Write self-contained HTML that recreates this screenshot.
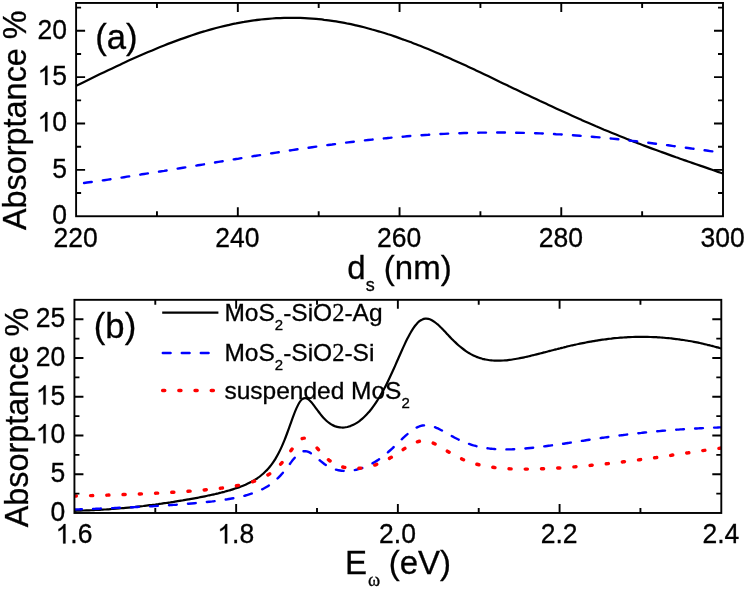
<!DOCTYPE html>
<html><head><meta charset="utf-8"><title>Absorptance</title>
<style>html,body{margin:0;padding:0;background:#fff}svg{display:block;opacity:.999;will-change:transform}text{font-family:"Liberation Sans",sans-serif;fill:#000;stroke:#000;stroke-width:.3px}.ser{font-family:"Liberation Serif",serif}</style></head><body>
<svg width="747" height="590" viewBox="0 0 747 590">
<rect width="747" height="590" fill="#fff"/>
<clipPath id="ca"><rect x="76.10" y="2.95" width="646.90" height="213.30"/></clipPath>
<g clip-path="url(#ca)" fill="none">
<path d="M76.1 85.9C77.4 85.2 81.4 83.2 84.1 81.9C86.8 80.6 89.4 79.3 92.1 78.0C94.8 76.7 97.4 75.4 100.1 74.1C102.8 72.8 105.4 71.6 108.1 70.3C110.8 69.0 113.4 67.8 116.1 66.5C118.8 65.3 121.4 64.0 124.1 62.8C126.8 61.6 129.4 60.4 132.1 59.1C134.8 57.9 137.4 56.8 140.1 55.6C142.8 54.4 145.4 53.3 148.1 52.1C150.8 51.0 153.4 49.9 156.1 48.7C158.8 47.6 161.4 46.6 164.1 45.5C166.8 44.4 169.4 43.4 172.1 42.4C174.8 41.4 177.4 40.4 180.1 39.4C182.8 38.4 185.4 37.5 188.1 36.6C190.8 35.7 193.4 34.8 196.1 33.9C198.8 33.0 201.4 32.2 204.1 31.4C206.8 30.6 209.4 29.8 212.1 29.1C214.8 28.4 217.4 27.7 220.1 27.0C222.8 26.3 225.4 25.7 228.1 25.1C230.8 24.5 233.4 23.9 236.1 23.4C238.8 22.8 241.4 22.3 244.1 21.9C246.8 21.4 249.4 21.0 252.1 20.6C254.8 20.2 257.4 19.9 260.1 19.6C262.8 19.3 265.4 19.0 268.1 18.8C270.8 18.6 273.4 18.4 276.1 18.2C278.8 18.1 281.4 18.0 284.1 17.9C286.8 17.8 289.4 17.8 292.1 17.8C294.8 17.8 297.4 17.8 300.1 17.9C302.8 18.0 305.4 18.1 308.1 18.3C310.8 18.5 313.4 18.7 316.1 18.9C318.8 19.2 321.4 19.4 324.1 19.8C326.8 20.1 329.4 20.4 332.1 20.8C334.8 21.2 337.4 21.7 340.1 22.1C342.8 22.6 345.4 23.1 348.1 23.7C350.8 24.2 353.4 24.8 356.1 25.4C358.8 26.0 361.4 26.6 364.1 27.3C366.8 28.0 369.4 28.7 372.1 29.5C374.8 30.2 377.4 31.0 380.1 31.8C382.8 32.6 385.4 33.4 388.1 34.3C390.8 35.1 393.4 36.0 396.1 36.9C398.8 37.8 401.4 38.8 404.1 39.8C406.8 40.7 409.4 41.7 412.1 42.7C414.8 43.7 417.4 44.8 420.1 45.8C422.8 46.9 425.4 48.0 428.1 49.1C430.8 50.2 433.4 51.3 436.1 52.4C438.8 53.5 441.4 54.7 444.1 55.9C446.8 57.0 449.4 58.2 452.1 59.4C454.8 60.6 457.4 61.8 460.1 63.0C462.8 64.2 465.4 65.5 468.1 66.7C470.8 67.9 473.4 69.2 476.1 70.4C478.8 71.7 481.4 72.9 484.1 74.2C486.8 75.5 489.4 76.7 492.1 78.0C494.8 79.3 497.4 80.6 500.1 81.9C502.8 83.1 505.4 84.4 508.1 85.7C510.8 87.0 513.4 88.3 516.1 89.5C518.8 90.8 521.4 92.1 524.1 93.4C526.8 94.7 529.4 95.9 532.1 97.2C534.8 98.5 537.4 99.7 540.1 101.0C542.8 102.2 545.4 103.5 548.1 104.7C550.8 106.0 553.4 107.2 556.1 108.5C558.8 109.7 561.4 110.9 564.1 112.1C566.8 113.4 569.4 114.6 572.1 115.8C574.8 117.0 577.4 118.1 580.1 119.3C582.8 120.5 585.4 121.7 588.1 122.8C590.8 124.0 593.4 125.1 596.1 126.3C598.8 127.4 601.4 128.5 604.1 129.7C606.8 130.8 609.4 131.9 612.1 133.0C614.8 134.1 617.4 135.1 620.1 136.2C622.8 137.3 625.4 138.3 628.1 139.4C630.8 140.4 633.4 141.5 636.1 142.5C638.8 143.5 641.4 144.6 644.1 145.6C646.8 146.6 649.4 147.6 652.1 148.6C654.8 149.6 657.4 150.5 660.1 151.5C662.8 152.5 665.4 153.5 668.1 154.4C670.8 155.4 673.4 156.3 676.1 157.3C678.8 158.2 681.4 159.2 684.1 160.1C686.8 161.0 689.4 162.0 692.1 162.9C694.8 163.8 697.4 164.7 700.1 165.6C702.8 166.6 705.4 167.5 708.1 168.4C710.8 169.3 713.6 170.3 716.1 171.1C718.6 172.0 721.9 173.1 723.0 173.5" stroke="#000" stroke-width="2.20"/>
<path d="M76.1 184.1C77.4 184.0 81.4 183.4 84.1 183.0C86.8 182.7 89.4 182.3 92.1 181.9C94.8 181.5 97.4 181.1 100.1 180.8C102.8 180.4 105.4 180.0 108.1 179.6C110.8 179.2 113.4 178.8 116.1 178.4C118.8 178.0 121.4 177.6 124.1 177.2C126.8 176.8 129.4 176.4 132.1 175.9C134.8 175.5 137.4 175.1 140.1 174.7C142.8 174.3 145.4 173.8 148.1 173.4C150.8 173.0 153.4 172.6 156.1 172.1C158.8 171.7 161.4 171.3 164.1 170.9C166.8 170.4 169.4 170.0 172.1 169.6C174.8 169.1 177.4 168.7 180.1 168.2C182.8 167.8 185.4 167.4 188.1 166.9C190.8 166.5 193.4 166.0 196.1 165.6C198.8 165.2 201.4 164.7 204.1 164.3C206.8 163.8 209.4 163.4 212.1 163.0C214.8 162.5 217.4 162.1 220.1 161.6C222.8 161.2 225.4 160.8 228.1 160.3C230.8 159.9 233.4 159.4 236.1 159.0C238.8 158.6 241.4 158.1 244.1 157.7C246.8 157.3 249.4 156.8 252.1 156.4C254.8 156.0 257.4 155.5 260.1 155.1C262.8 154.7 265.4 154.3 268.1 153.8C270.8 153.4 273.4 153.0 276.1 152.6C278.8 152.2 281.4 151.8 284.1 151.4C286.8 150.9 289.4 150.5 292.1 150.1C294.8 149.7 297.4 149.3 300.1 148.9C302.8 148.6 305.4 148.2 308.1 147.8C310.8 147.4 313.4 147.0 316.1 146.6C318.8 146.3 321.4 145.9 324.1 145.5C326.8 145.2 329.4 144.8 332.1 144.5C334.8 144.1 337.4 143.8 340.1 143.4C342.8 143.1 345.4 142.7 348.1 142.4C350.8 142.1 353.4 141.8 356.1 141.4C358.8 141.1 361.4 140.8 364.1 140.5C366.8 140.2 369.4 139.9 372.1 139.6C374.8 139.3 377.4 139.1 380.1 138.8C382.8 138.5 385.4 138.3 388.1 138.0C390.8 137.7 393.4 137.5 396.1 137.3C398.8 137.0 401.4 136.8 404.1 136.6C406.8 136.3 409.4 136.1 412.1 135.9C414.8 135.7 417.4 135.5 420.1 135.3C422.8 135.1 425.4 134.9 428.1 134.8C430.8 134.6 433.4 134.4 436.1 134.3C438.8 134.1 441.4 134.0 444.1 133.9C446.8 133.7 449.4 133.6 452.1 133.5C454.8 133.4 457.4 133.3 460.1 133.2C462.8 133.1 465.4 133.0 468.1 132.9C470.8 132.9 473.4 132.8 476.1 132.7C478.8 132.7 481.4 132.6 484.1 132.6C486.8 132.6 489.4 132.5 492.1 132.5C494.8 132.5 497.4 132.5 500.1 132.5C502.8 132.5 505.4 132.5 508.1 132.6C510.8 132.6 513.4 132.6 516.1 132.7C518.8 132.7 521.4 132.8 524.1 132.9C526.8 132.9 529.4 133.0 532.1 133.1C534.8 133.2 537.4 133.3 540.1 133.4C542.8 133.5 545.4 133.6 548.1 133.8C550.8 133.9 553.4 134.0 556.1 134.2C558.8 134.3 561.4 134.5 564.1 134.6C566.8 134.8 569.4 135.0 572.1 135.2C574.8 135.4 577.4 135.6 580.1 135.8C582.8 136.0 585.4 136.2 588.1 136.4C590.8 136.6 593.4 136.9 596.1 137.1C598.8 137.3 601.4 137.6 604.1 137.8C606.8 138.1 609.4 138.4 612.1 138.6C614.8 138.9 617.4 139.2 620.1 139.5C622.8 139.8 625.4 140.1 628.1 140.4C630.8 140.7 633.4 141.0 636.1 141.3C638.8 141.6 641.4 141.9 644.1 142.2C646.8 142.6 649.4 142.9 652.1 143.2C654.8 143.6 657.4 143.9 660.1 144.3C662.8 144.6 665.4 145.0 668.1 145.3C670.8 145.7 673.4 146.0 676.1 146.4C678.8 146.7 681.4 147.1 684.1 147.5C686.8 147.8 689.4 148.2 692.1 148.6C694.8 148.9 697.4 149.3 700.1 149.7C702.8 150.1 705.4 150.4 708.1 150.8C710.8 151.2 713.6 151.6 716.1 151.9C718.6 152.3 721.9 152.7 723.0 152.9" stroke="#00f" stroke-width="2.40" stroke-linecap="round" stroke-dasharray="7.75 11.19" stroke-dashoffset="10.9"/>
</g>
<rect x="76.10" y="2.95" width="646.90" height="213.30" fill="none" stroke="#000" stroke-width="1.90"/>
<path d="M237.82 216.25 v-9.00 M237.82 2.95 v9.00 M399.55 216.25 v-9.00 M399.55 2.95 v9.00 M561.27 216.25 v-9.00 M561.27 2.95 v9.00 M156.96 216.25 v-5.00 M156.96 2.95 v5.00 M318.69 216.25 v-5.00 M318.69 2.95 v5.00 M480.41 216.25 v-5.00 M480.41 2.95 v5.00 M642.14 216.25 v-5.00 M642.14 2.95 v5.00 M76.10 169.88 h9.00 M723.00 169.88 h-9.00 M76.10 123.51 h9.00 M723.00 123.51 h-9.00 M76.10 77.14 h9.00 M723.00 77.14 h-9.00 M76.10 30.77 h9.00 M723.00 30.77 h-9.00 M76.10 193.07 h5.00 M723.00 193.07 h-5.00 M76.10 146.70 h5.00 M723.00 146.70 h-5.00 M76.10 100.33 h5.00 M723.00 100.33 h-5.00 M76.10 53.96 h5.00 M723.00 53.96 h-5.00 M76.10 7.59 h5.00 M723.00 7.59 h-5.00" stroke="#000" stroke-width="1.90" fill="none"/>
<text transform="translate(52.27 224.15) scale(1 1.060)" font-size="26.50">0</text>
<text transform="translate(52.27 177.78) scale(1 1.060)" font-size="26.50">5</text>
<path transform="translate(37.53 131.41) scale(0.01294 -0.01313)" d="M763 0H583V1147Q518 1085 412.5 1023T223 930V1104Q373 1174.5 485 1275T644 1472H763V0Z" fill="#000" stroke="#000" stroke-width="19.3"/>
<text transform="translate(52.27 131.41) scale(1 1.060)" font-size="26.50">0</text>
<path transform="translate(37.53 85.04) scale(0.01294 -0.01313)" d="M763 0H583V1147Q518 1085 412.5 1023T223 930V1104Q373 1174.5 485 1275T644 1472H763V0Z" fill="#000" stroke="#000" stroke-width="19.3"/>
<text transform="translate(52.27 85.04) scale(1 1.060)" font-size="26.50">5</text>
<text transform="translate(37.53 38.67) scale(1 1.060)" font-size="26.50">20</text>
<text transform="translate(53.60 246.70) scale(1 1.060)" font-size="26.50">220</text>
<text transform="translate(215.32 246.70) scale(1 1.060)" font-size="26.50">240</text>
<text transform="translate(377.05 246.70) scale(1 1.060)" font-size="26.50">260</text>
<text transform="translate(538.77 246.70) scale(1 1.060)" font-size="26.50">280</text>
<text transform="translate(700.50 246.70) scale(1 1.060)" font-size="26.50">300</text>
<text x="347.3" y="279.3" font-size="33.00">d<tspan font-size="18" dy="11.3">s</tspan><tspan dy="-11.3"> (nm)</tspan></text>
<text transform="translate(26.0 120.2) rotate(-90)" font-size="32.40" text-anchor="middle">Absorptance %</text>
<text x="95.2" y="48.9" font-size="34.70">(a)</text>
<clipPath id="cb"><rect x="74.43" y="299.83" width="646.87" height="213.15"/></clipPath>
<g clip-path="url(#cb)" fill="none">
<path d="M74.4 510.8C74.9 510.7 76.4 510.7 77.4 510.7C78.4 510.7 79.4 510.7 80.4 510.6C81.4 510.6 82.4 510.6 83.4 510.5C84.4 510.5 85.4 510.5 86.4 510.4C87.4 510.4 88.4 510.4 89.4 510.3C90.4 510.3 91.4 510.2 92.4 510.2C93.4 510.1 94.4 510.1 95.4 510.0C96.4 510.0 97.4 509.9 98.4 509.9C99.4 509.8 100.4 509.8 101.4 509.7C102.4 509.7 103.4 509.6 104.4 509.5C105.4 509.5 106.4 509.4 107.4 509.3C108.4 509.3 109.4 509.2 110.4 509.1C111.4 509.0 112.4 509.0 113.4 508.9C114.4 508.8 115.4 508.7 116.4 508.7C117.4 508.6 118.4 508.5 119.4 508.4C120.4 508.3 121.4 508.2 122.4 508.1C123.4 508.1 124.4 508.0 125.4 507.9C126.4 507.8 127.4 507.7 128.4 507.6C129.4 507.5 130.4 507.4 131.4 507.3C132.4 507.2 133.4 507.1 134.4 507.0C135.4 506.9 136.4 506.8 137.4 506.6C138.4 506.5 139.4 506.4 140.4 506.3C141.4 506.2 142.4 506.1 143.4 506.0C144.4 505.8 145.4 505.7 146.4 505.6C147.4 505.5 148.4 505.4 149.4 505.2C150.4 505.1 151.4 505.0 152.4 504.9C153.4 504.7 154.4 504.6 155.4 504.5C156.4 504.3 157.4 504.2 158.4 504.1C159.4 503.9 160.4 503.8 161.4 503.7C162.4 503.5 163.4 503.4 164.4 503.2C165.4 503.1 166.4 502.9 167.4 502.8C168.4 502.7 169.4 502.5 170.4 502.4C171.4 502.2 172.4 502.0 173.4 501.9C174.4 501.7 175.4 501.6 176.4 501.4C177.4 501.3 178.4 501.1 179.4 500.9C180.4 500.8 181.4 500.6 182.4 500.5C183.4 500.3 184.4 500.1 185.4 499.9C186.4 499.8 187.4 499.6 188.4 499.4C189.4 499.2 190.4 499.1 191.4 498.9C192.4 498.7 193.4 498.5 194.4 498.3C195.4 498.2 196.4 498.0 197.4 497.8C198.4 497.6 199.4 497.4 200.4 497.2C201.4 497.0 202.4 496.8 203.4 496.6C204.4 496.4 205.4 496.2 206.4 496.0C207.4 495.8 208.4 495.6 209.4 495.3C210.4 495.1 211.4 494.9 212.4 494.7C213.4 494.5 214.4 494.2 215.4 494.0C216.4 493.8 217.4 493.5 218.4 493.3C219.4 493.0 220.4 492.8 221.4 492.5C222.4 492.3 223.4 492.0 224.4 491.8C225.4 491.5 226.4 491.2 227.4 490.9C228.4 490.6 229.4 490.4 230.4 490.1C231.4 489.8 232.4 489.4 233.4 489.1C234.4 488.8 235.4 488.5 236.4 488.1C237.4 487.8 238.4 487.4 239.4 487.1C240.4 486.7 241.4 486.3 242.4 485.9C243.4 485.5 244.4 485.1 245.4 484.7C246.4 484.2 247.4 483.8 248.4 483.3C249.4 482.8 250.4 482.3 251.4 481.8C252.4 481.2 253.4 480.7 254.4 480.1C255.4 479.5 256.4 478.8 257.4 478.2C258.4 477.5 259.4 476.8 260.4 476.0C261.4 475.2 262.4 474.4 263.4 473.5C264.4 472.6 265.4 471.7 266.4 470.6C267.4 469.6 268.4 468.5 269.4 467.3C270.4 466.1 271.4 464.8 272.4 463.4C273.4 462.0 274.4 460.5 275.4 458.9C276.4 457.2 277.4 455.5 278.4 453.6C279.4 451.7 280.4 449.6 281.4 447.4C282.4 445.2 283.4 442.8 284.4 440.4C285.4 437.9 286.4 435.2 287.4 432.5C288.4 429.8 289.4 426.9 290.4 424.2C291.4 421.4 292.4 418.5 293.4 415.9C294.4 413.2 295.4 410.6 296.4 408.4C297.4 406.2 298.4 404.1 299.4 402.5C300.4 401.0 301.4 399.8 302.4 399.0C303.4 398.3 304.4 398.0 305.4 398.1C306.4 398.1 307.4 398.7 308.4 399.4C309.4 400.1 310.4 401.2 311.4 402.3C312.4 403.4 313.4 404.8 314.4 406.1C315.4 407.4 316.4 408.8 317.4 410.2C318.4 411.5 319.4 412.9 320.4 414.1C321.4 415.4 322.4 416.6 323.4 417.7C324.4 418.8 325.4 419.8 326.4 420.7C327.4 421.6 328.4 422.4 329.4 423.1C330.4 423.9 331.4 424.5 332.4 425.0C333.4 425.6 334.4 426.0 335.4 426.4C336.4 426.7 337.4 427.0 338.4 427.2C339.4 427.4 340.4 427.5 341.4 427.5C342.4 427.6 343.4 427.6 344.4 427.5C345.4 427.4 346.4 427.2 347.4 427.0C348.4 426.7 349.4 426.4 350.4 426.1C351.4 425.7 352.4 425.3 353.4 424.8C354.4 424.3 355.4 423.7 356.4 423.1C357.4 422.5 358.4 421.8 359.4 421.1C360.4 420.3 361.4 419.5 362.4 418.6C363.4 417.8 364.4 416.8 365.4 415.8C366.4 414.8 367.4 413.7 368.4 412.6C369.4 411.5 370.4 410.2 371.4 409.0C372.4 407.7 373.4 406.3 374.4 404.9C375.4 403.5 376.4 402.0 377.4 400.4C378.4 398.9 379.4 397.2 380.4 395.5C381.4 393.8 382.4 392.0 383.4 390.1C384.4 388.3 385.4 386.4 386.4 384.4C387.4 382.4 388.4 380.3 389.4 378.2C390.4 376.1 391.4 374.0 392.4 371.8C393.4 369.6 394.4 367.3 395.4 365.1C396.4 362.8 397.4 360.5 398.4 358.3C399.4 356.0 400.4 353.7 401.4 351.5C402.4 349.2 403.4 347.0 404.4 344.9C405.4 342.7 406.4 340.6 407.4 338.6C408.4 336.7 409.4 334.7 410.4 333.0C411.4 331.2 412.4 329.6 413.4 328.1C414.4 326.6 415.4 325.3 416.4 324.2C417.4 323.0 418.4 322.0 419.4 321.2C420.4 320.4 421.4 319.8 422.4 319.4C423.4 318.9 424.4 318.7 425.4 318.6C426.4 318.5 427.4 318.6 428.4 318.8C429.4 319.0 430.4 319.4 431.4 319.9C432.4 320.4 433.4 321.1 434.4 321.8C435.4 322.5 436.4 323.3 437.4 324.2C438.4 325.0 439.4 326.0 440.4 327.0C441.4 327.9 442.4 329.0 443.4 330.0C444.4 331.1 445.4 332.1 446.4 333.2C447.4 334.3 448.4 335.3 449.4 336.4C450.4 337.4 451.4 338.5 452.4 339.5C453.4 340.5 454.4 341.5 455.4 342.4C456.4 343.4 457.4 344.3 458.4 345.2C459.4 346.1 460.4 346.9 461.4 347.7C462.4 348.5 463.4 349.3 464.4 350.0C465.4 350.7 466.4 351.4 467.4 352.1C468.4 352.7 469.4 353.3 470.4 353.9C471.4 354.4 472.4 354.9 473.4 355.4C474.4 355.9 475.4 356.3 476.4 356.7C477.4 357.2 478.4 357.5 479.4 357.9C480.4 358.2 481.4 358.5 482.4 358.8C483.4 359.0 484.4 359.3 485.4 359.5C486.4 359.7 487.4 359.9 488.4 360.0C489.4 360.2 490.4 360.3 491.4 360.4C492.4 360.5 493.4 360.5 494.4 360.6C495.4 360.6 496.4 360.7 497.4 360.7C498.4 360.7 499.4 360.7 500.4 360.6C501.4 360.6 502.4 360.6 503.4 360.5C504.4 360.4 505.4 360.4 506.4 360.3C507.4 360.2 508.4 360.0 509.4 359.9C510.4 359.8 511.4 359.7 512.4 359.5C513.4 359.4 514.4 359.2 515.4 359.0C516.4 358.9 517.4 358.7 518.4 358.5C519.4 358.3 520.4 358.1 521.4 357.9C522.4 357.7 523.4 357.5 524.4 357.3C525.4 357.0 526.4 356.8 527.4 356.6C528.4 356.4 529.4 356.1 530.4 355.9C531.4 355.6 532.4 355.4 533.4 355.2C534.4 354.9 535.4 354.7 536.4 354.4C537.4 354.2 538.4 353.9 539.4 353.6C540.4 353.4 541.4 353.1 542.4 352.9C543.4 352.6 544.4 352.3 545.4 352.1C546.4 351.8 547.4 351.6 548.4 351.3C549.4 351.0 550.4 350.8 551.4 350.5C552.4 350.3 553.4 350.0 554.4 349.7C555.4 349.5 556.4 349.2 557.4 349.0C558.4 348.7 559.4 348.5 560.4 348.2C561.4 348.0 562.4 347.7 563.4 347.5C564.4 347.2 565.4 347.0 566.4 346.7C567.4 346.5 568.4 346.3 569.4 346.0C570.4 345.8 571.4 345.6 572.4 345.3C573.4 345.1 574.4 344.9 575.4 344.7C576.4 344.4 577.4 344.2 578.4 344.0C579.4 343.8 580.4 343.6 581.4 343.4C582.4 343.2 583.4 343.0 584.4 342.8C585.4 342.6 586.4 342.4 587.4 342.2C588.4 342.0 589.4 341.8 590.4 341.6C591.4 341.4 592.4 341.3 593.4 341.1C594.4 340.9 595.4 340.8 596.4 340.6C597.4 340.4 598.4 340.3 599.4 340.1C600.4 340.0 601.4 339.8 602.4 339.7C603.4 339.6 604.4 339.4 605.4 339.3C606.4 339.2 607.4 339.0 608.4 338.9C609.4 338.8 610.4 338.7 611.4 338.6C612.4 338.4 613.4 338.3 614.4 338.2C615.4 338.1 616.4 338.0 617.4 338.0C618.4 337.9 619.4 337.8 620.4 337.7C621.4 337.6 622.4 337.6 623.4 337.5C624.4 337.4 625.4 337.4 626.4 337.3C627.4 337.2 628.4 337.2 629.4 337.1C630.4 337.1 631.4 337.1 632.4 337.0C633.4 337.0 634.4 337.0 635.4 336.9C636.4 336.9 637.4 336.9 638.4 336.9C639.4 336.9 640.4 336.9 641.4 336.8C642.4 336.8 643.4 336.8 644.4 336.9C645.4 336.9 646.4 336.9 647.4 336.9C648.4 336.9 649.4 336.9 650.4 337.0C651.4 337.0 652.4 337.0 653.4 337.1C654.4 337.1 655.4 337.2 656.4 337.2C657.4 337.3 658.4 337.3 659.4 337.4C660.4 337.5 661.4 337.5 662.4 337.6C663.4 337.7 664.4 337.8 665.4 337.9C666.4 337.9 667.4 338.0 668.4 338.1C669.4 338.2 670.4 338.3 671.4 338.4C672.4 338.6 673.4 338.7 674.4 338.8C675.4 338.9 676.4 339.0 677.4 339.2C678.4 339.3 679.4 339.4 680.4 339.6C681.4 339.7 682.4 339.9 683.4 340.0C684.4 340.2 685.4 340.3 686.4 340.5C687.4 340.7 688.4 340.8 689.4 341.0C690.4 341.2 691.4 341.4 692.4 341.5C693.4 341.7 694.4 341.9 695.4 342.1C696.4 342.3 697.4 342.5 698.4 342.7C699.4 342.9 700.4 343.2 701.4 343.4C702.4 343.6 703.4 343.8 704.4 344.1C705.4 344.3 706.4 344.5 707.4 344.8C708.4 345.0 709.4 345.3 710.4 345.5C711.4 345.8 712.4 346.0 713.4 346.3C714.4 346.6 715.4 346.8 716.4 347.1C717.4 347.4 718.6 347.7 719.4 348.0C720.2 348.2 721.0 348.4 721.3 348.5" stroke="#000" stroke-width="2.20"/>
<path d="M74.4 509.5C74.9 509.5 76.4 509.4 77.4 509.4C78.4 509.4 79.4 509.3 80.4 509.3C81.4 509.3 82.4 509.2 83.4 509.2C84.4 509.2 85.4 509.1 86.4 509.1C87.4 509.1 88.4 509.0 89.4 509.0C90.4 508.9 91.4 508.9 92.4 508.9C93.4 508.8 94.4 508.8 95.4 508.8C96.4 508.7 97.4 508.7 98.4 508.7C99.4 508.6 100.4 508.6 101.4 508.5C102.4 508.5 103.4 508.5 104.4 508.4C105.4 508.4 106.4 508.3 107.4 508.3C108.4 508.3 109.4 508.2 110.4 508.2C111.4 508.1 112.4 508.1 113.4 508.1C114.4 508.0 115.4 508.0 116.4 507.9C117.4 507.9 118.4 507.9 119.4 507.8C120.4 507.8 121.4 507.7 122.4 507.7C123.4 507.6 124.4 507.6 125.4 507.5C126.4 507.5 127.4 507.5 128.4 507.4C129.4 507.4 130.4 507.3 131.4 507.3C132.4 507.2 133.4 507.2 134.4 507.1C135.4 507.1 136.4 507.0 137.4 507.0C138.4 506.9 139.4 506.9 140.4 506.8C141.4 506.8 142.4 506.7 143.4 506.7C144.4 506.6 145.4 506.6 146.4 506.5C147.4 506.5 148.4 506.4 149.4 506.4C150.4 506.3 151.4 506.2 152.4 506.2C153.4 506.1 154.4 506.1 155.4 506.0C156.4 506.0 157.4 505.9 158.4 505.8C159.4 505.8 160.4 505.7 161.4 505.7C162.4 505.6 163.4 505.5 164.4 505.5C165.4 505.4 166.4 505.4 167.4 505.3C168.4 505.2 169.4 505.2 170.4 505.1C171.4 505.0 172.4 505.0 173.4 504.9C174.4 504.8 175.4 504.7 176.4 504.7C177.4 504.6 178.4 504.5 179.4 504.5C180.4 504.4 181.4 504.3 182.4 504.2C183.4 504.2 184.4 504.1 185.4 504.0C186.4 503.9 187.4 503.8 188.4 503.8C189.4 503.7 190.4 503.6 191.4 503.5C192.4 503.4 193.4 503.3 194.4 503.2C195.4 503.1 196.4 503.0 197.4 503.0C198.4 502.9 199.4 502.8 200.4 502.7C201.4 502.6 202.4 502.5 203.4 502.4C204.4 502.3 205.4 502.2 206.4 502.0C207.4 501.9 208.4 501.8 209.4 501.7C210.4 501.6 211.4 501.5 212.4 501.4C213.4 501.2 214.4 501.1 215.4 501.0C216.4 500.9 217.4 500.7 218.4 500.6C219.4 500.5 220.4 500.3 221.4 500.2C222.4 500.0 223.4 499.9 224.4 499.7C225.4 499.6 226.4 499.4 227.4 499.3C228.4 499.1 229.4 498.9 230.4 498.7C231.4 498.6 232.4 498.4 233.4 498.2C234.4 498.0 235.4 497.8 236.4 497.6C237.4 497.4 238.4 497.2 239.4 497.0C240.4 496.7 241.4 496.5 242.4 496.3C243.4 496.0 244.4 495.8 245.4 495.5C246.4 495.2 247.4 494.9 248.4 494.6C249.4 494.3 250.4 494.0 251.4 493.7C252.4 493.4 253.4 493.0 254.4 492.7C255.4 492.3 256.4 491.9 257.4 491.5C258.4 491.1 259.4 490.6 260.4 490.2C261.4 489.7 262.4 489.2 263.4 488.7C264.4 488.2 265.4 487.6 266.4 487.0C267.4 486.4 268.4 485.8 269.4 485.1C270.4 484.4 271.4 483.7 272.4 482.9C273.4 482.1 274.4 481.3 275.4 480.4C276.4 479.5 277.4 478.6 278.4 477.6C279.4 476.6 280.4 475.6 281.4 474.4C282.4 473.3 283.4 472.1 284.4 470.9C285.4 469.7 286.4 468.4 287.4 467.1C288.4 465.8 289.4 464.5 290.4 463.2C291.4 461.9 292.4 460.5 293.4 459.3C294.4 458.1 295.4 456.9 296.4 455.9C297.4 454.8 298.4 453.9 299.4 453.2C300.4 452.4 301.4 451.9 302.4 451.5C303.4 451.2 304.4 451.1 305.4 451.1C306.4 451.2 307.4 451.5 308.4 451.9C309.4 452.3 310.4 452.9 311.4 453.6C312.4 454.2 313.4 455.1 314.4 455.9C315.4 456.7 316.4 457.5 317.4 458.4C318.4 459.2 319.4 460.1 320.4 460.9C321.4 461.7 322.4 462.5 323.4 463.2C324.4 464.0 325.4 464.7 326.4 465.3C327.4 465.9 328.4 466.5 329.4 467.0C330.4 467.5 331.4 468.0 332.4 468.4C333.4 468.8 334.4 469.2 335.4 469.5C336.4 469.8 337.4 470.0 338.4 470.2C339.4 470.4 340.4 470.6 341.4 470.7C342.4 470.8 343.4 470.9 344.4 471.0C345.4 471.0 346.4 471.0 347.4 471.0C348.4 470.9 349.4 470.9 350.4 470.7C351.4 470.6 352.4 470.5 353.4 470.3C354.4 470.2 355.4 470.0 356.4 469.7C357.4 469.5 358.4 469.2 359.4 468.9C360.4 468.6 361.4 468.3 362.4 468.0C363.4 467.6 364.4 467.2 365.4 466.8C366.4 466.4 367.4 465.9 368.4 465.5C369.4 465.0 370.4 464.5 371.4 464.0C372.4 463.4 373.4 462.8 374.4 462.2C375.4 461.6 376.4 461.0 377.4 460.4C378.4 459.7 379.4 459.0 380.4 458.3C381.4 457.6 382.4 456.8 383.4 456.0C384.4 455.2 385.4 454.4 386.4 453.6C387.4 452.8 388.4 451.9 389.4 451.0C390.4 450.1 391.4 449.2 392.4 448.3C393.4 447.4 394.4 446.4 395.4 445.4C396.4 444.5 397.4 443.5 398.4 442.5C399.4 441.6 400.4 440.6 401.4 439.6C402.4 438.7 403.4 437.7 404.4 436.8C405.4 435.9 406.4 434.9 407.4 434.1C408.4 433.2 409.4 432.4 410.4 431.6C411.4 430.8 412.4 430.1 413.4 429.4C414.4 428.8 415.4 428.2 416.4 427.7C417.4 427.2 418.4 426.7 419.4 426.4C420.4 426.0 421.4 425.7 422.4 425.5C423.4 425.4 424.4 425.3 425.4 425.2C426.4 425.2 427.4 425.3 428.4 425.4C429.4 425.5 430.4 425.7 431.4 426.0C432.4 426.2 433.4 426.6 434.4 426.9C435.4 427.3 436.4 427.8 437.4 428.2C438.4 428.7 439.4 429.2 440.4 429.7C441.4 430.2 442.4 430.7 443.4 431.3C444.4 431.9 445.4 432.4 446.4 433.0C447.4 433.6 448.4 434.1 449.4 434.7C450.4 435.3 451.4 435.8 452.4 436.4C453.4 436.9 454.4 437.5 455.4 438.0C456.4 438.5 457.4 439.0 458.4 439.5C459.4 440.0 460.4 440.5 461.4 440.9C462.4 441.4 463.4 441.8 464.4 442.2C465.4 442.6 466.4 443.0 467.4 443.4C468.4 443.7 469.4 444.1 470.4 444.4C471.4 444.8 472.4 445.1 473.4 445.4C474.4 445.6 475.4 445.9 476.4 446.2C477.4 446.4 478.4 446.7 479.4 446.9C480.4 447.1 481.4 447.3 482.4 447.5C483.4 447.7 484.4 447.8 485.4 448.0C486.4 448.2 487.4 448.3 488.4 448.4C489.4 448.5 490.4 448.7 491.4 448.8C492.4 448.9 493.4 448.9 494.4 449.0C495.4 449.1 496.4 449.2 497.4 449.2C498.4 449.3 499.4 449.3 500.4 449.3C501.4 449.4 502.4 449.4 503.4 449.4C504.4 449.4 505.4 449.4 506.4 449.4C507.4 449.4 508.4 449.4 509.4 449.4C510.4 449.3 511.4 449.3 512.4 449.3C513.4 449.2 514.4 449.2 515.4 449.1C516.4 449.1 517.4 449.0 518.4 449.0C519.4 448.9 520.4 448.8 521.4 448.8C522.4 448.7 523.4 448.6 524.4 448.5C525.4 448.5 526.4 448.4 527.4 448.3C528.4 448.2 529.4 448.1 530.4 448.0C531.4 447.9 532.4 447.8 533.4 447.7C534.4 447.6 535.4 447.5 536.4 447.3C537.4 447.2 538.4 447.1 539.4 447.0C540.4 446.9 541.4 446.7 542.4 446.6C543.4 446.5 544.4 446.4 545.4 446.2C546.4 446.1 547.4 446.0 548.4 445.8C549.4 445.7 550.4 445.6 551.4 445.4C552.4 445.3 553.4 445.1 554.4 445.0C555.4 444.9 556.4 444.7 557.4 444.6C558.4 444.4 559.4 444.3 560.4 444.1C561.4 444.0 562.4 443.8 563.4 443.7C564.4 443.5 565.4 443.4 566.4 443.2C567.4 443.1 568.4 442.9 569.4 442.8C570.4 442.6 571.4 442.5 572.4 442.3C573.4 442.2 574.4 442.0 575.4 441.9C576.4 441.7 577.4 441.6 578.4 441.4C579.4 441.3 580.4 441.1 581.4 441.0C582.4 440.8 583.4 440.6 584.4 440.5C585.4 440.3 586.4 440.2 587.4 440.0C588.4 439.9 589.4 439.7 590.4 439.6C591.4 439.4 592.4 439.3 593.4 439.1C594.4 439.0 595.4 438.8 596.4 438.7C597.4 438.6 598.4 438.4 599.4 438.3C600.4 438.1 601.4 438.0 602.4 437.8C603.4 437.7 604.4 437.5 605.4 437.4C606.4 437.3 607.4 437.1 608.4 437.0C609.4 436.8 610.4 436.7 611.4 436.6C612.4 436.4 613.4 436.3 614.4 436.2C615.4 436.0 616.4 435.9 617.4 435.8C618.4 435.6 619.4 435.5 620.4 435.4C621.4 435.2 622.4 435.1 623.4 435.0C624.4 434.8 625.4 434.7 626.4 434.6C627.4 434.5 628.4 434.4 629.4 434.2C630.4 434.1 631.4 434.0 632.4 433.9C633.4 433.8 634.4 433.6 635.4 433.5C636.4 433.4 637.4 433.3 638.4 433.2C639.4 433.1 640.4 433.0 641.4 432.9C642.4 432.7 643.4 432.6 644.4 432.5C645.4 432.4 646.4 432.3 647.4 432.2C648.4 432.1 649.4 432.0 650.4 431.9C651.4 431.8 652.4 431.7 653.4 431.6C654.4 431.5 655.4 431.4 656.4 431.4C657.4 431.3 658.4 431.2 659.4 431.1C660.4 431.0 661.4 430.9 662.4 430.8C663.4 430.7 664.4 430.6 665.4 430.6C666.4 430.5 667.4 430.4 668.4 430.3C669.4 430.2 670.4 430.2 671.4 430.1C672.4 430.0 673.4 429.9 674.4 429.9C675.4 429.8 676.4 429.7 677.4 429.6C678.4 429.6 679.4 429.5 680.4 429.4C681.4 429.4 682.4 429.3 683.4 429.2C684.4 429.2 685.4 429.1 686.4 429.0C687.4 429.0 688.4 428.9 689.4 428.9C690.4 428.8 691.4 428.7 692.4 428.7C693.4 428.6 694.4 428.6 695.4 428.5C696.4 428.5 697.4 428.4 698.4 428.4C699.4 428.3 700.4 428.3 701.4 428.2C702.4 428.2 703.4 428.1 704.4 428.1C705.4 428.0 706.4 428.0 707.4 427.9C708.4 427.9 709.4 427.8 710.4 427.8C711.4 427.8 712.4 427.7 713.4 427.7C714.4 427.6 715.4 427.6 716.4 427.6C717.4 427.5 718.6 427.5 719.4 427.4C720.2 427.4 721.0 427.4 721.3 427.4" stroke="#00f" stroke-width="2.40" stroke-linecap="round" stroke-dasharray="7.8 11.2" stroke-dashoffset="0.3"/>
<path d="M74.4 496.0C74.9 496.0 76.4 495.9 77.4 495.9C78.4 495.9 79.4 495.9 80.4 495.9C81.4 495.8 82.4 495.8 83.4 495.8C84.4 495.8 85.4 495.7 86.4 495.7C87.4 495.7 88.4 495.7 89.4 495.6C90.4 495.6 91.4 495.6 92.4 495.6C93.4 495.5 94.4 495.5 95.4 495.5C96.4 495.5 97.4 495.4 98.4 495.4C99.4 495.4 100.4 495.3 101.4 495.3C102.4 495.3 103.4 495.3 104.4 495.2C105.4 495.2 106.4 495.2 107.4 495.1C108.4 495.1 109.4 495.1 110.4 495.0C111.4 495.0 112.4 495.0 113.4 494.9C114.4 494.9 115.4 494.9 116.4 494.8C117.4 494.8 118.4 494.8 119.4 494.7C120.4 494.7 121.4 494.7 122.4 494.6C123.4 494.6 124.4 494.5 125.4 494.5C126.4 494.5 127.4 494.4 128.4 494.4C129.4 494.4 130.4 494.3 131.4 494.3C132.4 494.2 133.4 494.2 134.4 494.2C135.4 494.1 136.4 494.1 137.4 494.0C138.4 494.0 139.4 494.0 140.4 493.9C141.4 493.9 142.4 493.8 143.4 493.8C144.4 493.7 145.4 493.7 146.4 493.6C147.4 493.6 148.4 493.5 149.4 493.5C150.4 493.5 151.4 493.4 152.4 493.4C153.4 493.3 154.4 493.3 155.4 493.2C156.4 493.2 157.4 493.1 158.4 493.1C159.4 493.0 160.4 493.0 161.4 492.9C162.4 492.8 163.4 492.8 164.4 492.7C165.4 492.7 166.4 492.6 167.4 492.6C168.4 492.5 169.4 492.5 170.4 492.4C171.4 492.3 172.4 492.3 173.4 492.2C174.4 492.2 175.4 492.1 176.4 492.0C177.4 492.0 178.4 491.9 179.4 491.8C180.4 491.8 181.4 491.7 182.4 491.7C183.4 491.6 184.4 491.5 185.4 491.4C186.4 491.4 187.4 491.3 188.4 491.2C189.4 491.2 190.4 491.1 191.4 491.0C192.4 490.9 193.4 490.9 194.4 490.8C195.4 490.7 196.4 490.6 197.4 490.5C198.4 490.5 199.4 490.4 200.4 490.3C201.4 490.2 202.4 490.1 203.4 490.0C204.4 489.9 205.4 489.8 206.4 489.7C207.4 489.6 208.4 489.5 209.4 489.4C210.4 489.3 211.4 489.2 212.4 489.1C213.4 489.0 214.4 488.9 215.4 488.8C216.4 488.7 217.4 488.6 218.4 488.5C219.4 488.3 220.4 488.2 221.4 488.1C222.4 488.0 223.4 487.8 224.4 487.7C225.4 487.6 226.4 487.4 227.4 487.3C228.4 487.1 229.4 487.0 230.4 486.8C231.4 486.6 232.4 486.5 233.4 486.3C234.4 486.1 235.4 486.0 236.4 485.8C237.4 485.6 238.4 485.4 239.4 485.2C240.4 485.0 241.4 484.8 242.4 484.5C243.4 484.3 244.9 484.0 245.4 483.8C245.9 483.7 245.5 483.8 245.5 483.8" stroke="#f00" stroke-width="3.45" stroke-linecap="round" stroke-dasharray="2.10 14.156" stroke-dashoffset="0.08"/>
<path d="M245.5 483.8C246.0 483.7 247.4 483.3 248.4 483.0C249.4 482.8 250.4 482.5 251.4 482.2C252.4 481.9 253.4 481.5 254.4 481.2C255.4 480.9 256.4 480.5 257.4 480.1C258.4 479.7 259.4 479.3 260.4 478.9C261.4 478.4 262.4 477.9 263.4 477.4C264.4 476.9 265.4 476.4 266.4 475.8C267.4 475.2 268.4 474.6 269.4 474.0C270.4 473.3 271.4 472.6 272.4 471.8C273.4 471.1 274.4 470.2 275.4 469.4C276.4 468.5 277.4 467.5 278.4 466.5C279.4 465.5 280.4 464.4 281.4 463.3C282.4 462.2 283.4 460.9 284.4 459.7C285.4 458.4 286.4 457.1 287.4 455.7C288.4 454.3 289.4 452.9 290.4 451.4C291.4 450.0 292.4 448.6 293.4 447.2C294.4 445.9 295.4 444.5 296.4 443.3C297.4 442.2 298.4 441.1 299.4 440.3C300.4 439.5 301.4 438.8 302.4 438.5C303.4 438.1 304.4 438.0 305.4 438.2C306.4 438.3 307.6 438.9 308.4 439.4C309.3 439.8 310.2 440.8 310.5 441.0" stroke="#f00" stroke-width="3.45" stroke-linecap="round" stroke-dasharray="2.10 14.703" stroke-dashoffset="-7.39"/>
<path d="M310.5 441.0C310.7 441.2 310.8 441.1 311.4 441.8C312.1 442.4 313.4 443.8 314.4 444.9C315.4 446.1 316.4 447.3 317.4 448.4C318.4 449.6 319.4 450.8 320.4 451.9C321.4 453.0 322.4 454.1 323.4 455.2C324.4 456.2 325.4 457.1 326.4 458.0C327.4 458.9 328.4 459.7 329.4 460.5C330.4 461.2 331.4 461.9 332.4 462.5C333.4 463.2 334.4 463.7 335.4 464.2C336.4 464.7 337.4 465.2 338.4 465.6C339.4 466.0 340.4 466.3 341.4 466.6C342.4 466.9 343.4 467.2 344.4 467.4C345.4 467.6 346.4 467.8 347.4 468.0C348.4 468.1 349.4 468.2 350.4 468.3C351.4 468.4 352.4 468.4 353.4 468.5C354.4 468.5 355.4 468.5 356.4 468.5C357.4 468.4 358.4 468.4 359.4 468.3C360.4 468.2 361.4 468.1 362.4 468.0C363.4 467.8 364.4 467.7 365.4 467.5C366.4 467.3 367.4 467.1 368.4 466.9C369.4 466.6 370.4 466.4 371.4 466.1C372.4 465.8 373.4 465.5 374.4 465.2C375.4 464.9 376.4 464.5 377.4 464.1C378.4 463.8 379.4 463.4 380.4 462.9C381.4 462.5 382.4 462.1 383.4 461.6C384.4 461.1 385.4 460.6 386.4 460.1C387.4 459.6 388.4 459.0 389.4 458.4C390.4 457.9 391.4 457.3 392.4 456.7C393.4 456.0 394.4 455.4 395.4 454.8C396.4 454.1 397.4 453.4 398.4 452.8C399.4 452.1 400.4 451.4 401.4 450.7C402.4 450.1 403.4 449.4 404.4 448.7C405.4 448.0 406.4 447.4 407.4 446.8C408.4 446.1 409.4 445.5 410.4 445.0C411.4 444.4 412.4 443.9 413.4 443.4C414.4 442.9 415.4 442.5 416.4 442.1C417.4 441.8 418.4 441.5 419.4 441.3C420.4 441.1 421.4 440.9 422.4 440.9C423.4 440.8 424.4 440.9 425.4 440.9C426.4 441.0 427.4 441.2 428.4 441.5C429.4 441.7 430.4 442.0 431.4 442.4C432.4 442.8 433.4 443.2 434.4 443.7C435.4 444.1 436.4 444.7 437.4 445.2C438.4 445.7 439.4 446.3 440.4 446.9C441.4 447.5 442.4 448.1 443.4 448.7C444.4 449.3 445.4 450.0 446.4 450.6C447.4 451.2 448.4 451.8 449.4 452.4C450.4 453.0 451.4 453.6 452.4 454.1C453.4 454.7 454.4 455.3 455.4 455.8C456.4 456.3 457.4 456.8 458.4 457.3C459.4 457.8 460.4 458.3 461.4 458.8C462.4 459.2 463.4 459.7 464.4 460.1C465.4 460.5 466.4 460.9 467.4 461.3C468.4 461.6 469.4 462.0 470.4 462.3C471.4 462.7 472.4 463.0 473.4 463.3C474.4 463.6 475.4 463.9 476.4 464.1C477.4 464.4 478.4 464.7 479.4 464.9C480.4 465.1 481.4 465.4 482.4 465.6C483.4 465.8 484.4 466.0 485.4 466.2C486.4 466.4 487.4 466.5 488.4 466.7C489.4 466.9 490.4 467.0 491.4 467.1C492.4 467.3 493.4 467.4 494.4 467.5C495.4 467.7 496.4 467.8 497.4 467.9C498.4 468.0 499.4 468.1 500.4 468.2C501.4 468.3 502.4 468.3 503.4 468.4C504.4 468.5 505.4 468.6 506.4 468.6C507.4 468.7 508.4 468.7 509.4 468.8C510.4 468.8 511.4 468.9 512.4 468.9C513.4 468.9 514.4 469.0 515.4 469.0C516.4 469.0 517.4 469.1 518.4 469.1C519.4 469.1 520.4 469.1 521.4 469.1C522.4 469.1 523.4 469.1 524.4 469.1C525.4 469.1 526.4 469.1 527.4 469.1C528.4 469.1 529.4 469.1 530.4 469.1C531.4 469.1 532.4 469.1 533.4 469.0C534.4 469.0 535.4 469.0 536.4 469.0C537.4 468.9 538.4 468.9 539.4 468.9C540.4 468.8 541.4 468.8 542.4 468.8C543.4 468.7 544.4 468.7 545.4 468.7C546.4 468.6 547.4 468.6 548.4 468.5C549.4 468.5 550.4 468.4 551.4 468.4C552.4 468.3 553.4 468.3 554.4 468.2C555.4 468.2 556.4 468.1 557.4 468.0C558.4 468.0 559.4 467.9 560.4 467.9C561.4 467.8 562.4 467.7 563.4 467.7C564.4 467.6 565.4 467.5 566.4 467.4C567.4 467.4 568.4 467.3 569.4 467.2C570.4 467.2 571.4 467.1 572.4 467.0C573.4 466.9 574.4 466.8 575.4 466.8C576.4 466.7 577.4 466.6 578.4 466.5C579.4 466.4 580.4 466.3 581.4 466.3C582.4 466.2 583.4 466.1 584.4 466.0C585.4 465.9 586.4 465.8 587.4 465.7C588.4 465.6 589.4 465.5 590.4 465.4C591.4 465.3 592.4 465.2 593.4 465.1C594.4 465.0 595.4 464.9 596.4 464.8C597.4 464.7 598.4 464.6 599.4 464.5C600.4 464.4 601.4 464.3 602.4 464.2C603.4 464.1 604.4 464.0 605.4 463.9C606.4 463.8 607.4 463.7 608.4 463.6C609.4 463.5 610.4 463.3 611.4 463.2C612.4 463.1 613.4 463.0 614.4 462.9C615.4 462.8 616.4 462.7 617.4 462.5C618.4 462.4 619.4 462.3 620.4 462.2C621.4 462.1 622.4 461.9 623.4 461.8C624.4 461.7 625.4 461.6 626.4 461.4C627.4 461.3 628.4 461.2 629.4 461.1C630.4 460.9 631.4 460.8 632.4 460.7C633.4 460.6 634.4 460.4 635.4 460.3C636.4 460.2 637.4 460.0 638.4 459.9C639.4 459.8 640.4 459.6 641.4 459.5C642.4 459.4 643.4 459.2 644.4 459.1C645.4 459.0 646.4 458.8 647.4 458.7C648.4 458.6 649.4 458.4 650.4 458.3C651.4 458.2 652.4 458.0 653.4 457.9C654.4 457.7 655.4 457.6 656.4 457.5C657.4 457.3 658.4 457.2 659.4 457.0C660.4 456.9 661.4 456.7 662.4 456.6C663.4 456.5 664.4 456.3 665.4 456.2C666.4 456.0 667.4 455.9 668.4 455.7C669.4 455.6 670.4 455.4 671.4 455.3C672.4 455.1 673.4 455.0 674.4 454.9C675.4 454.7 676.4 454.6 677.4 454.4C678.4 454.3 679.4 454.1 680.4 454.0C681.4 453.8 682.4 453.7 683.4 453.5C684.4 453.4 685.4 453.2 686.4 453.1C687.4 452.9 688.4 452.8 689.4 452.6C690.4 452.5 691.4 452.3 692.4 452.2C693.4 452.0 694.4 451.9 695.4 451.7C696.4 451.6 697.4 451.4 698.4 451.3C699.4 451.1 700.4 451.0 701.4 450.8C702.4 450.7 703.4 450.5 704.4 450.4C705.4 450.3 706.4 450.1 707.4 450.0C708.4 449.8 709.4 449.7 710.4 449.5C711.4 449.4 712.4 449.2 713.4 449.1C714.4 449.0 715.4 448.8 716.4 448.7C717.4 448.5 718.6 448.4 719.4 448.3C720.2 448.1 721.0 448.0 721.3 448.0" stroke="#f00" stroke-width="3.45" stroke-linecap="round" stroke-dasharray="2.10 14.144" stroke-dashoffset="-9.68"/>
</g>
<rect x="74.43" y="299.83" width="646.87" height="213.15" fill="none" stroke="#000" stroke-width="1.90"/>
<path d="M236.15 512.98 v-9.00 M236.15 299.83 v9.00 M397.86 512.98 v-9.00 M397.86 299.83 v9.00 M559.58 512.98 v-9.00 M559.58 299.83 v9.00 M155.29 512.98 v-5.00 M155.29 299.83 v5.00 M317.01 512.98 v-5.00 M317.01 299.83 v5.00 M478.72 512.98 v-5.00 M478.72 299.83 v5.00 M640.44 512.98 v-5.00 M640.44 299.83 v5.00 M74.43 474.23 h9.00 M721.30 474.23 h-9.00 M74.43 435.47 h9.00 M721.30 435.47 h-9.00 M74.43 396.72 h9.00 M721.30 396.72 h-9.00 M74.43 357.96 h9.00 M721.30 357.96 h-9.00 M74.43 319.21 h9.00 M721.30 319.21 h-9.00 M74.43 493.60 h5.00 M721.30 493.60 h-5.00 M74.43 454.85 h5.00 M721.30 454.85 h-5.00 M74.43 416.09 h5.00 M721.30 416.09 h-5.00 M74.43 377.34 h5.00 M721.30 377.34 h-5.00 M74.43 338.58 h5.00 M721.30 338.58 h-5.00" stroke="#000" stroke-width="1.90" fill="none"/>
<text transform="translate(50.57 520.88) scale(1 1.060)" font-size="26.50">0</text>
<text transform="translate(50.57 482.13) scale(1 1.060)" font-size="26.50">5</text>
<path transform="translate(35.83 443.37) scale(0.01294 -0.01313)" d="M763 0H583V1147Q518 1085 412.5 1023T223 930V1104Q373 1174.5 485 1275T644 1472H763V0Z" fill="#000" stroke="#000" stroke-width="19.3"/>
<text transform="translate(50.57 443.37) scale(1 1.060)" font-size="26.50">0</text>
<path transform="translate(35.83 404.62) scale(0.01294 -0.01313)" d="M763 0H583V1147Q518 1085 412.5 1023T223 930V1104Q373 1174.5 485 1275T644 1472H763V0Z" fill="#000" stroke="#000" stroke-width="19.3"/>
<text transform="translate(50.57 404.62) scale(1 1.060)" font-size="26.50">5</text>
<text transform="translate(35.83 365.86) scale(1 1.060)" font-size="26.50">20</text>
<text transform="translate(35.83 327.11) scale(1 1.060)" font-size="26.50">25</text>
<path transform="translate(55.61 543.40) scale(0.01294 -0.01313)" d="M763 0H583V1147Q518 1085 412.5 1023T223 930V1104Q373 1174.5 485 1275T644 1472H763V0Z" fill="#000" stroke="#000" stroke-width="19.3"/>
<text transform="translate(70.35 543.40) scale(1 1.060)" font-size="26.50">.6</text>
<path transform="translate(217.33 543.40) scale(0.01294 -0.01313)" d="M763 0H583V1147Q518 1085 412.5 1023T223 930V1104Q373 1174.5 485 1275T644 1472H763V0Z" fill="#000" stroke="#000" stroke-width="19.3"/>
<text transform="translate(232.06 543.40) scale(1 1.060)" font-size="26.50">.8</text>
<text transform="translate(379.05 543.40) scale(1 1.060)" font-size="26.50">2.0</text>
<text transform="translate(540.76 543.40) scale(1 1.060)" font-size="26.50">2.2</text>
<text transform="translate(702.48 543.40) scale(1 1.060)" font-size="26.50">2.4</text>
<text x="345.1" y="574" font-size="33.00">E<tspan class="ser" font-size="18.5" dy="11.6" dx="0.8">ω</tspan><tspan dy="-11.6" dx="-0.6"> (eV)</tspan></text>
<text transform="translate(28.0 417.5) rotate(-90)" font-size="32.40" text-anchor="middle">Absorptance %</text>
<text x="93.8" y="337.7" font-size="34.70">(b)</text>
<path d="M162.2 312.7 H218.4" stroke="#000" stroke-width="2.20"/>
<path d="M162.8 353.0 H218.4" stroke="#00f" stroke-width="2.40" stroke-linecap="round" stroke-dasharray="7.8 11.2"/>
<path d="M162.65 390.4 H218.4" stroke="#f00" stroke-width="3.45" stroke-linecap="round" stroke-dasharray="2.1 14.1"/>
<text x="224.4" y="321.10" font-size="24.50">MoS<tspan font-size="15" dy="8.7">2</tspan><tspan dy="-8.7">-SiO</tspan><tspan class="ser">2</tspan>-Ag</text>
<text x="224.4" y="361.40" font-size="24.50">MoS<tspan font-size="15" dy="8.7">2</tspan><tspan dy="-8.7">-SiO</tspan><tspan class="ser">2</tspan>-Si</text>
<text x="224.4" y="399.1" font-size="24.50">suspended MoS<tspan font-size="15" dy="8.7">2</tspan></text>
</svg></body></html>
